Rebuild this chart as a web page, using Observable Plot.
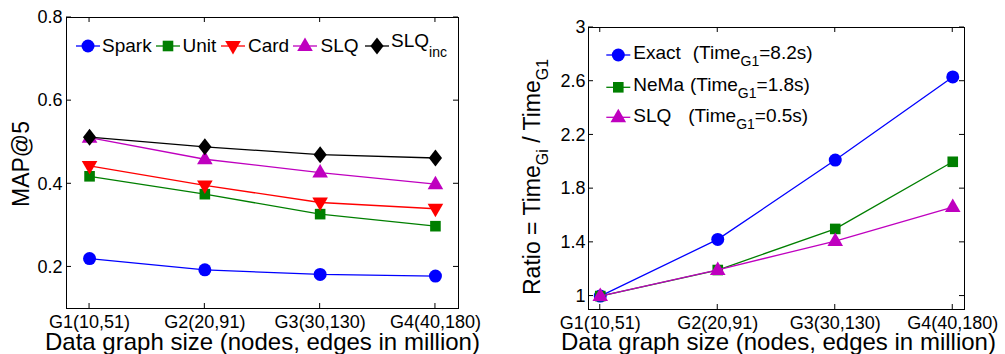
<!DOCTYPE html>
<html><head><meta charset="utf-8">
<script src="https://cdn.jsdelivr.net/npm/d3@7"></script>
<script src="https://cdn.jsdelivr.net/npm/@observablehq/plot@0.6"></script>
<style>
body{margin:0;background:#fff;}
#wrap{position:relative;width:1005px;height:354px;overflow:hidden;font-family:"Liberation Sans",Arial,sans-serif;background:#fff;}
#left{position:absolute;left:0;top:0}
#right{position:absolute;left:500px;top:0}
svg text{font-family:"Liberation Sans",Arial,sans-serif;}
</style></head><body><div id="wrap"><div id="left"></div><div id="right"></div></div>
<script>
// ---- data ----
const graphs = ["G1(10,51)", "G2(20,91)", "G3(30,130)", "G4(40,180)"];
const xIndex = [1, 2, 3, 4];
// left panel: MAP@5
const leftNames = ["Spark", "Unit", "Card", "SLQ", "SLQinc"];
const spark  = [0.220, 0.193, 0.182, 0.178];
const unit   = [0.418, 0.375, 0.327, 0.298];
const card   = [0.443, 0.396, 0.355, 0.340];
const slq    = [0.511, 0.459, 0.427, 0.399];
const slqInc = [0.512, 0.489, 0.470, 0.462];
const mapTicks = [0.2, 0.4, 0.6, 0.8];
// right panel: time ratio
const rightNames = ["Exact", "NeMa", "SLQ"];
const rightTimes = ["8.2s", "1.8s", "0.5s"];
const exact   = [1, 1.422, 2.013, 2.632];
const nema    = [1, 1.194, 1.500, 2.000];
const slqTime = [1, 1.195, 1.410, 1.663];
const ratioTicks = [1, 1.4, 1.8, 2.2, 2.6, 3];

// ---- styles ----
const BLUE = "#0000ff", GREEN = "#007f00", RED = "#ff0000", MAG = "#bf00bf", BLACK = "#000000";
const R = 6.5;
const k = s => Math.sqrt(s / Math.PI) / R;
const symTriUp = {draw(c, s){const f=k(s); c.moveTo(0,-8.5*f); c.lineTo(7.8*f,5*f); c.lineTo(-7.8*f,5*f); c.closePath();}};
const symTriDown = {draw(c, s){const f=k(s); c.moveTo(0,8.5*f); c.lineTo(7.8*f,-5*f); c.lineTo(-7.8*f,-5*f); c.closePath();}};
const symSquare = {draw(c, s){const f=k(s); const h=5.3*f; c.rect(-h,-h,2*h,2*h);}};
const symDiamond = {draw(c, s){const f=k(s); c.moveTo(0,-8.5*f); c.lineTo(6.6*f,0); c.lineTo(0,8.5*f); c.lineTo(-6.6*f,0); c.closePath();}};
const symCircle = {draw(c, s){const f=k(s); c.moveTo(6.5*f,0); c.arc(0,0,6.5*f,0,2*Math.PI);}};

const rows = vals => xIndex.map((x, i) => ({x, y: vals[i]}));
const leftSeries = [
  {vals: spark, color: BLUE, sym: symCircle},
  {vals: unit, color: GREEN, sym: symSquare},
  {vals: card, color: RED, sym: symTriDown},
  {vals: slq, color: MAG, sym: symTriUp},
  {vals: slqInc, color: BLACK, sym: symDiamond}
];
const rightSeries = [
  {vals: exact, color: BLUE, sym: symCircle},
  {vals: nema, color: GREEN, sym: symSquare},
  {vals: slqTime, color: MAG, sym: symTriUp}
];

function seriesMarks(series){
  const m = [];
  series.forEach(s => {
    m.push(Plot.line(rows(s.vals), {x: "x", y: "y", stroke: s.color, strokeWidth: 1.3}));
    m.push(Plot.dot(rows(s.vals), {x: "x", y: "y", fill: s.color, stroke: "none", symbol: s.sym, r: R}));
  });
  return m;
}

function inwardTicks(plot, xt, yt, len){
  const svg = d3.select(plot);
  const sx = plot.scale("x"), sy = plot.scale("y");
  const [xa, xb] = sx.range, [yb, ya] = sy.range;
  const g = svg.append("g").attr("stroke", "#000").attr("stroke-width", 1);
  xt.forEach(v => {
    const x = sx.apply(v);
    g.append("line").attr("x1", x).attr("x2", x).attr("y1", yb).attr("y2", yb - len);
    g.append("line").attr("x1", x).attr("x2", x).attr("y1", ya).attr("y2", ya + len);
  });
  yt.forEach(v => {
    const y = sy.apply(v);
    g.append("line").attr("y1", y).attr("y2", y).attr("x1", xa).attr("x2", xa + len);
    g.append("line").attr("y1", y).attr("y2", y).attr("x1", xb).attr("x2", xb - len);
  });
}

function legendMarker(svg, cx, cy, color, sym){
  svg.append("line").attr("x1", cx - 12).attr("x2", cx + 12).attr("y1", cy).attr("y2", cy)
    .attr("stroke", color).attr("stroke-width", 1.3);
  svg.append("path").attr("transform", `translate(${cx},${cy})`)
    .attr("d", d3.symbol().type(sym).size(Math.PI * R * R)()).attr("fill", color);
}
function txt(svg){
  return svg.append("text").attr("text-anchor", "start").attr("fill", "#000");
}

const FONT = "Liberation Sans, Arial, sans-serif";

// ---- left plot ----
const left = Plot.plot({
  width: 490, height: 354,
  marginLeft: 66, marginRight: 32, marginTop: 17, marginBottom: 46,
  x: {domain: [0.8, 4.2]},
  y: {domain: [0.1, 0.8]},
  style: {fontFamily: FONT, color: "#000", background: "#fff", overflow: "visible"},
  marks: [
    Plot.axisX(xIndex, {tickSize: 0, tickPadding: 7, tickFormat: i => graphs[i - 1], label: null, fontSize: 18}),
    Plot.axisY(mapTicks, {tickSize: 0, tickPadding: 4, tickFormat: d => d.toFixed(1), label: null, fontSize: 18}),
    ...seriesMarks(leftSeries),
    Plot.frame({stroke: "#000", strokeWidth: 1})
  ]
});
inwardTicks(left, xIndex, mapTicks, 5);
{
  const svg = d3.select(left);
  const xs = [88, 168, 233, 305, 377];
  leftSeries.forEach((s, i) => legendMarker(svg, xs[i], 46, s.color, s.sym));
  const tx = [102, 182.5, 248, 320.5, 391];
  leftNames.forEach((n, i) => {
    const t = txt(svg).attr("x", tx[i]).attr("y", i === 4 ? 47 : 52).attr("font-size", 19);
    if (n === "SLQinc") {
      t.append("tspan").text("SLQ");
      t.append("tspan").attr("font-size", 14).attr("dy", 10).text("inc");
    } else t.text(n);
  });
  svg.append("text").attr("transform", "translate(29,164) rotate(-90)").attr("text-anchor", "middle")
    .attr("fill", "#000").attr("font-size", 23).text("MAP@5");
  txt(svg).attr("x", 45).attr("y", 350).attr("font-size", 24).text("Data graph size (nodes, edges in million)");
}
document.getElementById("left").appendChild(left);

// ---- right plot ----
const right = Plot.plot({
  width: 505, height: 354,
  marginLeft: 88, marginRight: 41, marginTop: 27, marginBottom: 45,
  x: {domain: [0.9, 4.1]},
  y: {domain: [0.9, 3]},
  style: {fontFamily: FONT, color: "#000", background: "#fff", overflow: "visible"},
  marks: [
    Plot.axisX(xIndex, {tickSize: 0, tickPadding: 7, tickFormat: i => graphs[i - 1], label: null, fontSize: 18}),
    Plot.axisY(ratioTicks, {tickSize: 0, tickPadding: 3, tickFormat: d => String(d), label: null, fontSize: 18}),
    ...seriesMarks(rightSeries),
    Plot.frame({stroke: "#000", strokeWidth: 1})
  ]
});
inwardTicks(right, xIndex, ratioTicks, 5);
{
  const svg = d3.select(right);
  const ys = [55, 87.3, 117.3];
  const bases = [59.3, 90.7, 122.3];
  const parenX = [192.7, 190, 188.3];
  rightSeries.forEach((s, i) => {
    legendMarker(svg, 118.3, ys[i], s.color, s.sym);
    txt(svg).attr("x", 133.3).attr("y", bases[i]).attr("font-size", 19).text(rightNames[i]);
    const t = txt(svg).attr("x", parenX[i]).attr("y", bases[i]).attr("font-size", 19);
    t.append("tspan").text("(Time");
    t.append("tspan").attr("font-size", 14).attr("dy", 7).text("G1");
    t.append("tspan").attr("dy", -7).text("=" + rightTimes[i] + ")");
  });
  const yt = txt(svg).attr("transform", "translate(40,295) rotate(-90)").attr("font-size", 23);
  yt.append("tspan").text("Ratio = Time");
  yt.append("tspan").attr("font-size", 16).attr("dy", 8).text("Gi");
  yt.append("tspan").attr("dy", -8).text(" / Time");
  yt.append("tspan").attr("font-size", 16).attr("dy", 8).text("G1");
  txt(svg).attr("x", 61).attr("y", 350).attr("font-size", 24).text("Data graph size (nodes, edges in million)");
}
document.getElementById("right").appendChild(right);
</script></body></html>
